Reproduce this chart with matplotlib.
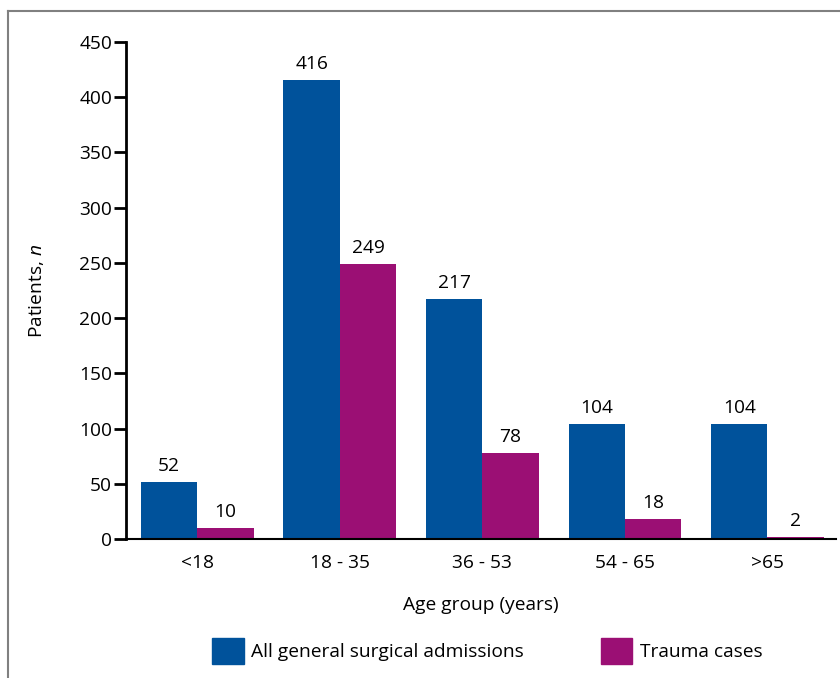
import numpy as np
import matplotlib.pyplot as plt
from matplotlib.patches import Patch
from matplotlib.lines import Line2D

plt.rcParams['font.family'] = ['Open Sans', 'DejaVu Sans']
plt.rcParams['mathtext.fontset'] = 'custom'
plt.rcParams['mathtext.rm'] = 'Open Sans'
plt.rcParams['mathtext.it'] = 'Open Sans:italic'

groups = ['<18', '18 - 35', '36 - 53', '54 - 65', '>65']
admissions = [52, 416, 217, 104, 104]
trauma = [10, 249, 78, 18, 2]

blue = '#00529b'
purple = '#9b0f74'
fs = 13.8

fig = plt.figure(figsize=(8.4, 6.78), dpi=100)
ax = fig.add_axes([0.15, 0.205, 0.845, 0.733])

x = np.arange(len(groups))
w = 0.395
b1 = ax.bar(x - w / 2, admissions, w, color=blue)
b2 = ax.bar(x + w / 2, trauma, w, color=purple)

for bars in (b1, b2):
    for rect in bars:
        h = rect.get_height()
        ax.annotate(str(int(h)), (rect.get_x() + rect.get_width() / 2, h),
                    xytext=(0, 5), textcoords='offset points',
                    ha='center', va='bottom', fontsize=fs)

ax.set_xlim(-0.5, 4.48)
ax.set_ylim(0, 450)
ax.set_yticks(np.arange(0, 451, 50))
ax.set_xticks(x)
ax.set_xticklabels(groups)
ax.tick_params(axis='y', direction='out', length=9, width=2, labelsize=fs, pad=1)
ax.tick_params(axis='x', length=0, labelsize=fs, pad=11)

for s in ('top', 'right'):
    ax.spines[s].set_visible(False)
ax.spines['left'].set_linewidth(2)
ax.spines['bottom'].set_linewidth(1.5)

ax.set_xlabel('Age group (years)', fontsize=fs, labelpad=17)
ax.set_ylabel('Patients, $n$', fontsize=fs, labelpad=24)

handles = [Patch(color=blue, label='All general surgical admissions'),
           Patch(color=purple, label='Trauma cases')]
fig.legend(handles=handles, loc='center', bbox_to_anchor=(0.58, 0.04), ncol=2,
           frameon=False, fontsize=fs, handlelength=1.65, handleheight=1.65,
           handletextpad=0.4, columnspacing=4.0)

# thin grey frame along the top and left edges
fig.add_artist(Line2D([8 / 840, 8 / 840], [0, 1 - 11 / 678], color='#808080', lw=1.5))
fig.add_artist(Line2D([8 / 840, 1], [1 - 11 / 678, 1 - 11 / 678], color='#808080', lw=1.5))

fig.savefig('out.png', dpi=100)
